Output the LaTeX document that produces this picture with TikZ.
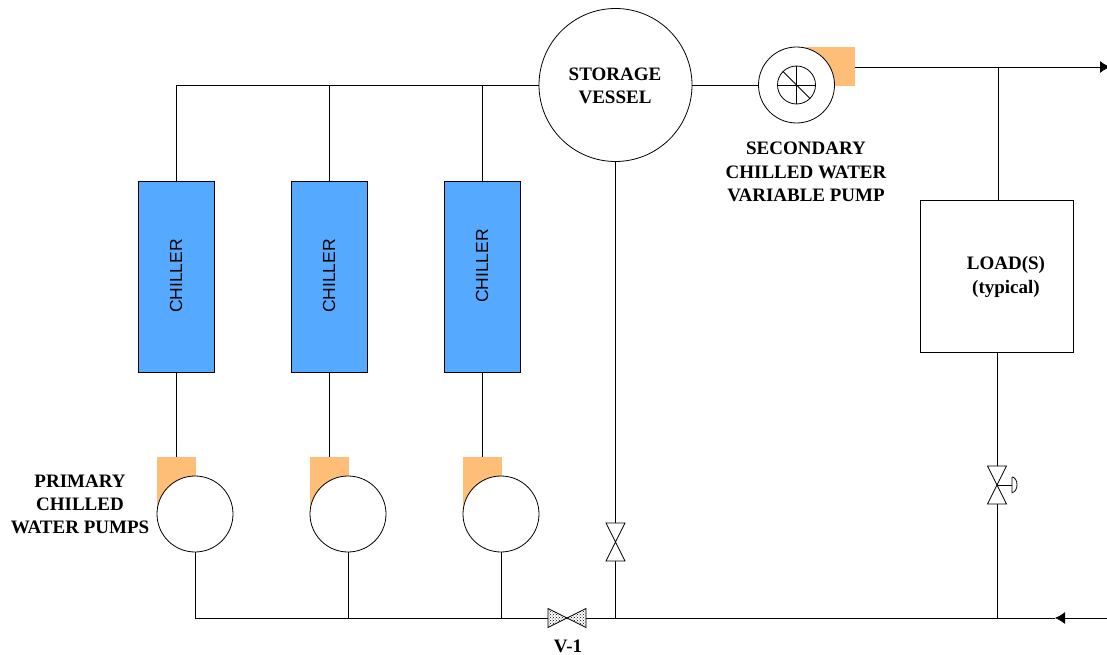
\documentclass[tikz,border=0pt]{standalone}
\usepackage{fontspec}
\setmainfont{Liberation Serif}
\newfontfamily\chillerfont{Liberation Sans}
\usetikzlibrary{arrows.meta}
\usetikzlibrary{patterns}
\usetikzlibrary{calc}
\definecolor{chillerblue}{RGB}{85,170,255}
\definecolor{casingorange}{RGB}{255,190,120}
\tikzset{
  pipe/.style={line width=0.8pt},
  tag/.style={font=\bfseries\fontsize{19}{23.3}\selectfont, align=center, inner sep=0pt},
  chillerbox/.style={draw, pipe, fill=chillerblue, minimum width=76, minimum height=191, inner sep=0pt},
  casing/.style={fill=casingorange, inner sep=0pt},
  pumpwheel/.style={draw, pipe, fill=white, circle, minimum size=76, inner sep=0pt},
  flowtip/.style={-{Latex[length=10,width=12]}},
}
\begin{document}
\begin{tikzpicture}[x=1,y=-1, pipe]
  \useasboundingbox (0,0) rectangle (1107,655);
  % set up coordinates of the headers
  \coordinate (supplyend) at (1110,67);
  \coordinate (returnend) at (1107,618);
  \coordinate (returnarrow) at (1055,618);
  \coordinate (returnstart) at (195,618);
  % draw the bypass line and vessel
  \node[draw, circle, fill=white, minimum size=153, inner sep=0pt] (vessel) at (615.5,85) {};
  \node[tag] (vesseltag) at (615,86) {STORAGE\\VESSEL};
  \coordinate (bypassbottom) at (615.5,618);
  % draw the secondary pump
  \node[casing, minimum width=58, minimum height=39] (seccasing) at (825.5,66.5) {};
  \node[pumpwheel] (secpump) at (796.5,85) {};
  \node[draw, circle, minimum size=38, inner sep=0pt] (secrotor) at (796.5,85) {};
  \draw (secrotor.north) -- (secrotor.south);
  \draw (secrotor.west) -- (secrotor.east);
  \draw (secrotor.135) -- (secrotor.-45);
  \node[tag] (sectag) at (806,172) {SECONDARY\\CHILLED WATER\\VARIABLE PUMP};
  \draw (vessel.east) -- (secpump.west);
  % draw the chillers and primary pumps
  \foreach \i/\cx/\px/\ty in {1/176/195/276, 2/329/348/276, 3/482/501/266} {
    \node[chillerbox] (chiller\i) at (\cx,276.5) {};
    \node[rotate=90, font=\chillerfont\fontsize{17.5}{18}\selectfont] (chillertag\i) at (\cx,\ty) {CHILLER};
    \node[casing, minimum width=39, minimum height=57] (casing\i) at (\cx,485.5) {};
    \node[pumpwheel] (pump\i) at (\px,514) {};
    \draw (chiller\i.south) -- (casing\i.north);
    \draw (pump\i.south) -- (pump\i.south |- returnstart);
    \draw (chiller\i.north) -- (chiller\i.north |- vessel.west);
  }
  \draw (chiller1.north |- vessel.west) -- (vessel.west);
  \node[tag] (primarytag) at (80,504.5) {PRIMARY\\CHILLED\\WATER PUMPS};
  % draw the load
  \node[draw, minimum width=153, minimum height=152, inner sep=0pt] (load) at (997,276) {};
  \node[tag] (loadtag) at (1006,277) {LOAD(S)\\(typical)};
  % draw the headers
  \draw[flowtip] (seccasing.east |- supplyend) -- (supplyend);
  \draw (998.5,67) -- (998.5,200);
  \draw[flowtip] (returnend) -- (returnarrow);
  \draw (returnarrow) -- (returnstart);
  % draw the valves
  \coordinate (bypassvalve) at (615.5,542);
  \coordinate (loadvalve) at (997,485);
  \coordinate (isovalve) at (567,618);
  \draw (vessel.south) -- (bypassbottom);
  \draw (load.south -| loadvalve) -- (loadvalve |- returnend);
  \foreach \v in {bypassvalve, loadvalve} {
    \draw[fill=white] (\v) -- ($(\v)+(-9.5,-19)$) -- ($(\v)+(9.5,-19)$) -- cycle;
    \draw[fill=white] (\v) -- ($(\v)+(-9.5,19)$) -- ($(\v)+(9.5,19)$) -- cycle;
  }
  \draw[fill=white, postaction={pattern=crosshatch dots}] (isovalve) -- ($(isovalve)+(-19,-9.5)$) -- ($(isovalve)+(-19,9.5)$) -- cycle;
  \draw[fill=white, postaction={pattern=crosshatch dots}] (isovalve) -- ($(isovalve)+(19,-9.5)$) -- ($(isovalve)+(19,9.5)$) -- cycle;
  \node[tag] (isotag) at (568,646) {V-1};
  % draw the actuator
  \coordinate (actuator) at (1012,485);
  \draw (loadvalve) -- (actuator);
  \draw (1012,477) -- (1012,492.5) arc[start angle=-90, end angle=90, x radius=5, y radius=-7.75] ;
\end{tikzpicture}
\end{document}
